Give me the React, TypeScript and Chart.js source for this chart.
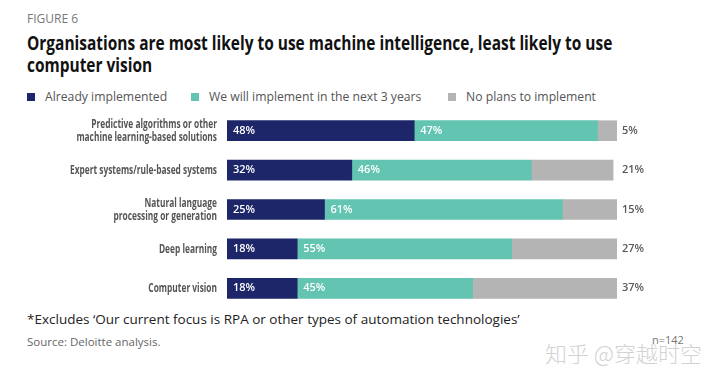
import React, { useEffect, useLayoutEffect, useRef, useState } from "react";
import { Chart, registerables } from "chart.js";

Chart.register(...registerables);

const categories: string[][] = [
  ["Predictive algorithms or other", "machine learning-based solutions"],
  ["Expert systems/rule-based systems"],
  ["Natural language", "processing or generation"],
  ["Deep learning"],
  ["Computer vision"],
];
const alreadyImplemented = [48, 32, 25, 18, 18];
const nextThreeYears = [47, 46, 61, 55, 45];
const noPlans = [5, 21, 15, 27, 37];
const seriesNames = ["Already implemented", "We will implement in the next 3 years", "No plans to implement"];
const seriesColors = ["#1d2669", "#62c4b1", "#b4b4b4"];

const SANS = "'Open Sans', sans-serif";

const labelPlugin = {
  id: "barLabels",
  afterDatasetsDraw(chart: any) {
    const ctx = chart.ctx;
    const area = chart.chartArea;
    const yScale = chart.scales.y;
    ctx.save();
    ctx.textBaseline = "middle";
    // category labels (condensed look)
    ctx.font = "bold 13px 'Open Sans'";
    ctx.fillStyle = "#555555";
    ctx.textAlign = "right";
    const s = 147 / ctx.measureText(categories[1][0]).width;
    const lineH = 13;
    categories.forEach((lines, i) => {
      const y = yScale.getPixelForValue(i);
      lines.forEach((line, j) => {
        const dy = (j - (lines.length - 1) / 2) * lineH;
        ctx.save();
        ctx.translate(area.left - 10, y + dy);
        ctx.scale(s, 1);
        ctx.fillText(line, 0, 0);
        ctx.restore();
      });
    });
    // value labels
    ctx.textAlign = "left";
    for (let d = 0; d < chart.data.datasets.length; d++) {
      const meta = chart.getDatasetMeta(d);
      const data = chart.data.datasets[d].data as number[];
      meta.data.forEach((bar: any, i: number) => {
        const v = data[i];
        ctx.font = "600 11px 'Open Sans'";
        if (d === 2) {
          ctx.fillStyle = "#5a5a5a";
          ctx.fillText(v + "%", area.right + 5, bar.y);
        } else {
          ctx.fillStyle = "#ffffff";
          ctx.fillText(v + "%", bar.base + 6, bar.y);
        }
      });
    }
    ctx.restore();
  },
};

function Title() {
  const l1 = useRef<HTMLSpanElement>(null);
  const [s, setS] = useState(1);
  useLayoutEffect(() => {
    if (l1.current) setS(585 / l1.current.offsetWidth);
  }, []);
  const line: React.CSSProperties = {
    display: "block",
    whiteSpace: "nowrap",
    width: "max-content",
    transform: `scaleX(${s})`,
    transformOrigin: "left center",
  };
  return (
    <div style={{ position: "absolute", left: 27, top: 32, fontFamily: SANS, fontWeight: 700, fontSize: 19.5, lineHeight: "22px", color: "#111" }}>
      <span style={line} ref={l1}>
        Organisations are most likely to use machine intelligence, least likely to use
      </span>
      <span style={line}>computer vision</span>
    </div>
  );
}

export default function App() {
  const ref = useRef<HTMLCanvasElement>(null);
  useEffect(() => {
    if (!ref.current) return;
    const chart = new Chart(ref.current, {
      type: "bar",
      data: {
        labels: categories.map((c) => c.join(" ")),
        datasets: [alreadyImplemented, nextThreeYears, noPlans].map((data, i) => ({
          label: seriesNames[i],
          data,
          backgroundColor: seriesColors[i],
          borderWidth: 0,
          barThickness: 20,
        })),
      },
      options: {
        indexAxis: "y",
        animation: false,
        responsive: false,
        maintainAspectRatio: false,
        layout: { padding: { left: 227, right: 103, top: 0, bottom: 0 } },
        plugins: { legend: { display: false }, tooltip: { enabled: false } },
        scales: {
          x: { stacked: true, min: 0, max: 100, display: false },
          y: { stacked: true, display: false },
        },
      },
      plugins: [labelPlugin],
    });
    return () => chart.destroy();
  }, []);

  const legendItem = (i: number, left: number) => (
    <div style={{ position: "absolute", left, top: 88, display: "flex", alignItems: "center", whiteSpace: "nowrap" }}>
      <span style={{ display: "inline-block", width: 8, height: 8, background: seriesColors[i], marginRight: 10 }} />
      <span style={{ fontFamily: SANS, fontSize: 12.2, color: "#555" }}>{seriesNames[i]}</span>
    </div>
  );

  return (
    <div style={{ position: "fixed", left: 0, top: 0, width: 720, height: 383, background: "#fff", overflow: "hidden" }}>
      <div style={{ position: "absolute", left: 27, top: 10, fontFamily: SANS, fontSize: 12, color: "#777", whiteSpace: "nowrap" }}>FIGURE 6</div>
      <Title />
      {legendItem(0, 27)}
      {legendItem(1, 191)}
      {legendItem(2, 448)}
      <canvas ref={ref} width={720} height={197} style={{ position: "absolute", left: 0, top: 111 }} />
      <div style={{ position: "absolute", left: 27, top: 310, fontFamily: SANS, fontSize: 13.5, color: "#222", whiteSpace: "nowrap" }}>
        *Excludes ‘Our current focus is RPA or other types of automation technologies’
      </div>
      <div style={{ position: "absolute", left: 27, top: 334, fontFamily: SANS, fontSize: 11.5, color: "#666", whiteSpace: "nowrap" }}>
        Source: Deloitte analysis.
      </div>
      <div style={{ position: "absolute", left: 545, top: 339, fontFamily: "'Noto Sans CJK SC', sans-serif", fontWeight: 300, fontSize: 22, lineHeight: "26px", color: "#d2d2d2", whiteSpace: "nowrap" }}>
        知乎 @穿越时空
      </div>
      <div style={{ position: "absolute", left: 652, top: 332, fontFamily: SANS, fontSize: 11, color: "#777", whiteSpace: "nowrap" }}>n=142</div>
    </div>
  );
}
